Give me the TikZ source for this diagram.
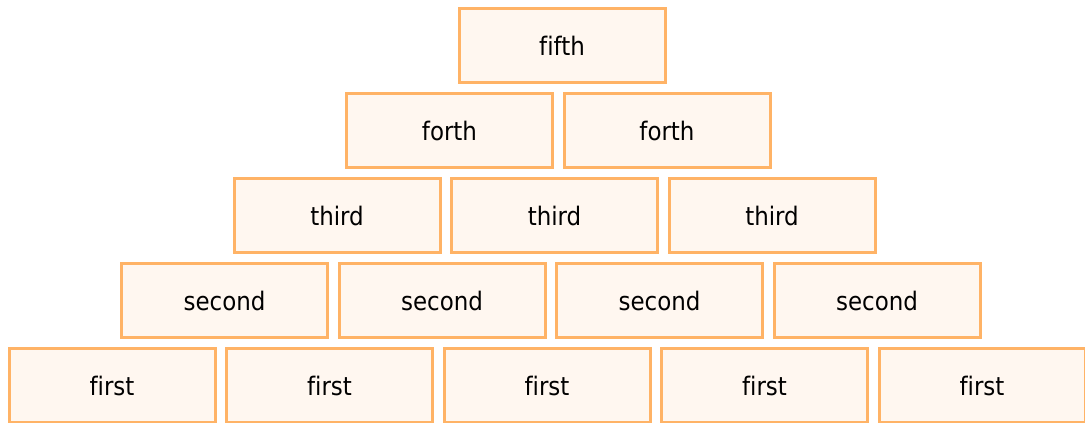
\documentclass[tikz,border=0pt]{standalone}
\usepackage{fontspec}
\setmainfont[Ligatures=NoCommon]{DejaVu Sans Condensed}
\definecolor{brickline}{HTML}{FFB366}
\definecolor{brickfill}{HTML}{FFF7F0}
\tikzset{
  brick/.style={draw=brickline, fill=brickfill, line width=3pt,
    minimum width=206pt, minimum height=74pt, inner sep=0pt,
    font=\fontsize{25.5}{30}\selectfont, text=black}
}
\begin{document}
\begin{tikzpicture}[x=1pt,y=1pt]
\useasboundingbox (0,0) rectangle (1085,-423);
% rows from bottom (k=0) to top (k=4); each row is shifted by half a brick
\foreach \k/\word/\n in {0/first/5, 1/second/4, 2/third/3, 3/forth/2, 4/fifth/1}{
  \foreach \i in {1,...,\n}{
    \node[brick] (b\k-\i) at ({8+104+112.5*\k+217.5*(\i-1)}, {-385.5+85*\k}) {\word};
  }
}
\end{tikzpicture}
\end{document}
